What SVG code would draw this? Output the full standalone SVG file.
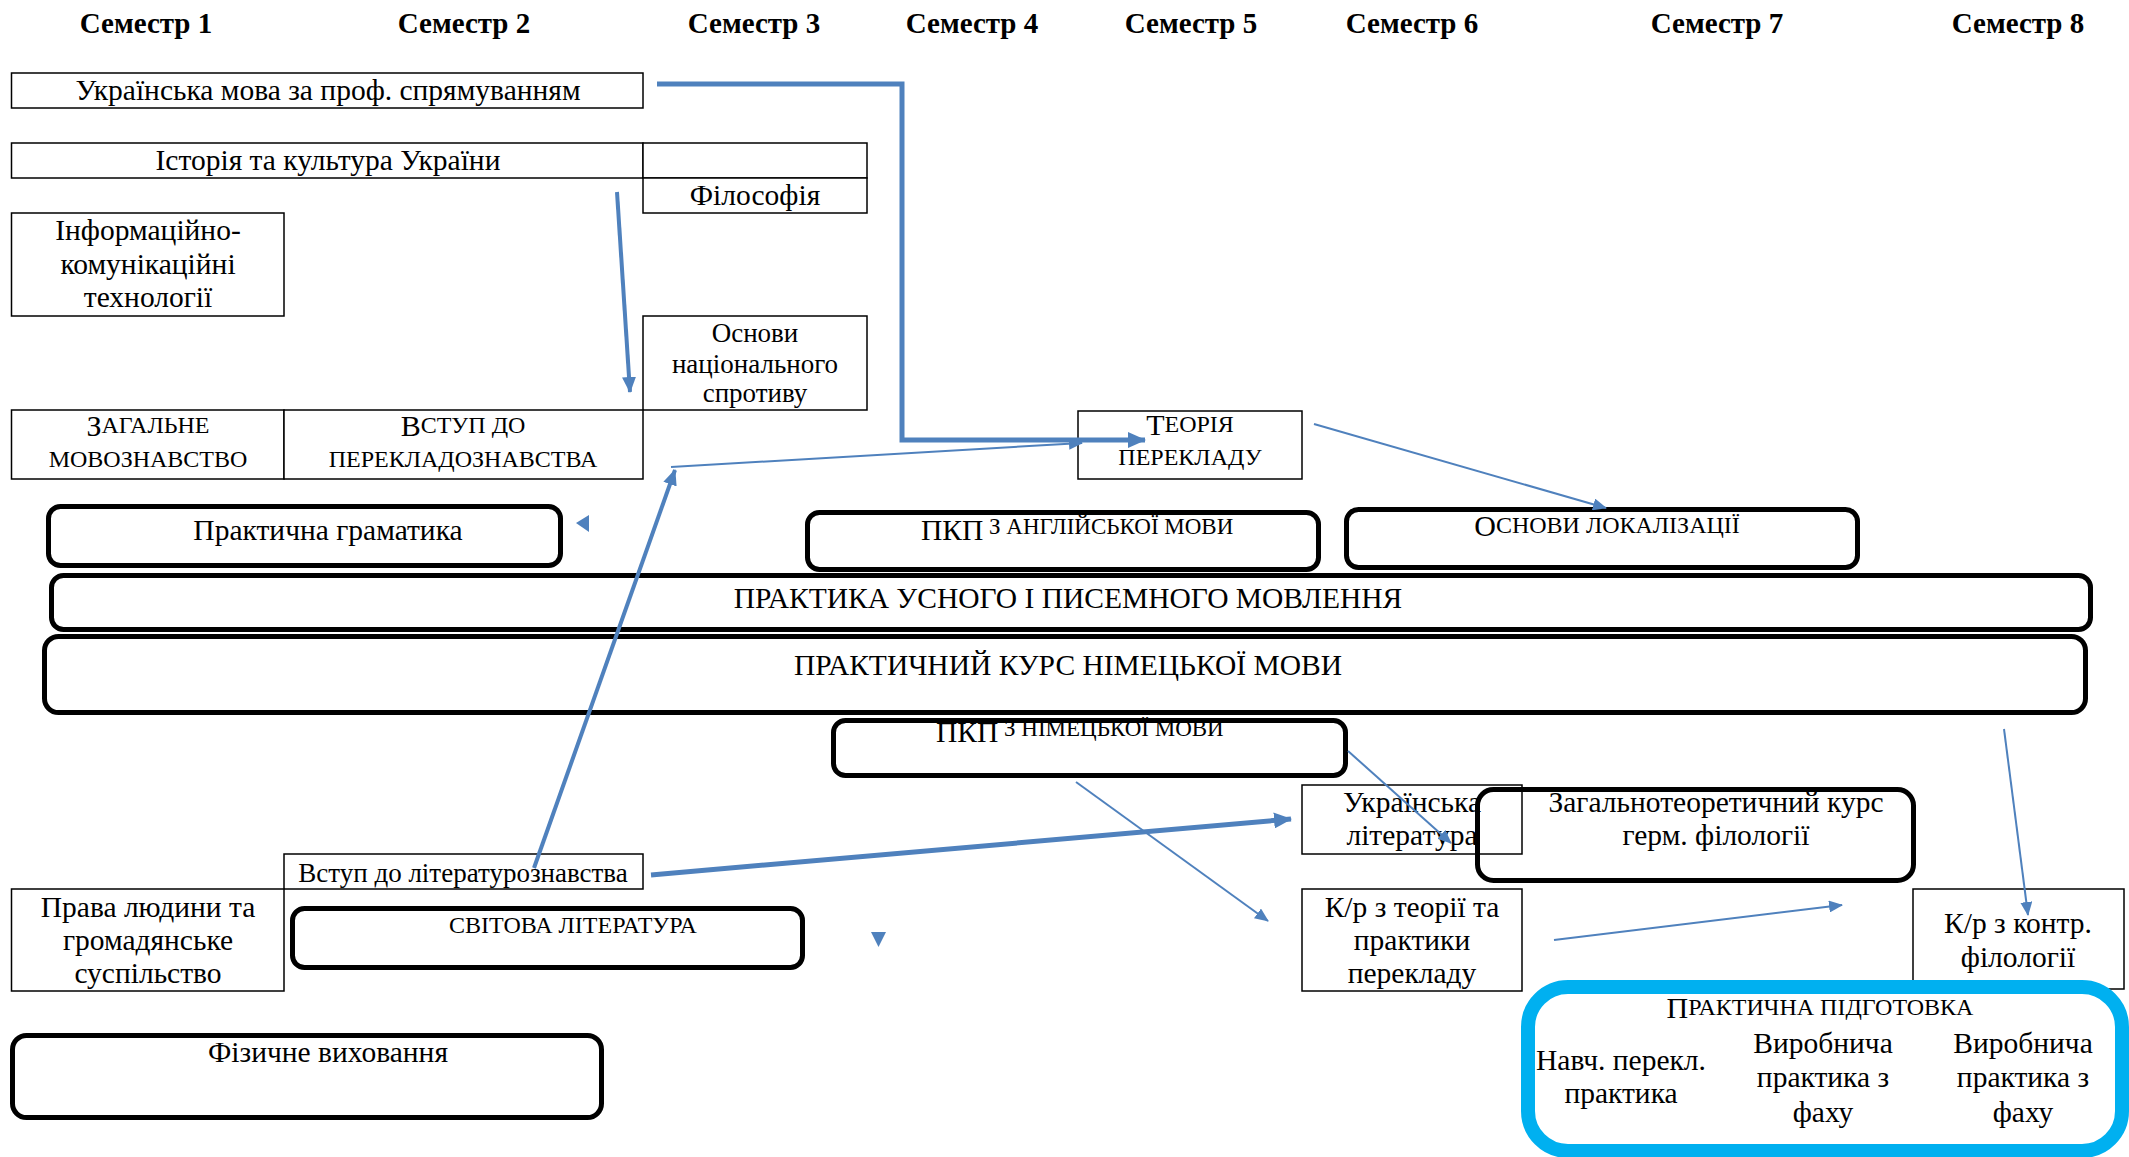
<svg xmlns="http://www.w3.org/2000/svg" width="2129" height="1157" viewBox="0 0 2129 1157">
<style>
text{font-family:"Liberation Serif","Times New Roman",serif;fill:#000;text-anchor:middle}
.h{font-size:29px;font-weight:bold}
.t{font-size:29.5px}
.s{font-size:27px}
.sc{font-size:24px}
.box{fill:#fff;stroke:#000;stroke-width:1.5}
.rb{fill:#fff;stroke:#000;stroke-width:5}
.thick{fill:none;stroke:#4F81BD;stroke-width:5}
.mid{fill:none;stroke:#4F81BD;stroke-width:4}
.thin{fill:none;stroke:#4F81BD;stroke-width:2}
.tri{fill:#4F81BD}
</style>
<defs>
<marker id="ab" markerUnits="userSpaceOnUse" markerWidth="18" markerHeight="16" refX="17" refY="8" orient="auto"><path d="M0,0 L18,8 L0,16 z" fill="#4F81BD"/></marker>
<marker id="am" markerUnits="userSpaceOnUse" markerWidth="16" markerHeight="14" refX="15" refY="7" orient="auto"><path d="M0,0 L16,7 L0,14 z" fill="#4F81BD"/></marker>
<marker id="at" markerUnits="userSpaceOnUse" markerWidth="14" markerHeight="12" refX="13" refY="6" orient="auto"><path d="M0,0 L14,6 L0,12 z" fill="#4F81BD"/></marker>
</defs>
<rect width="2129" height="1157" fill="#fff"/>

<g id="headers">
<text class="h" x="146" y="33">Семестр 1</text>
<text class="h" x="464" y="33">Семестр 2</text>
<text class="h" x="754" y="33">Семестр 3</text>
<text class="h" x="972" y="33">Семестр 4</text>
<text class="h" x="1191" y="33">Семестр 5</text>
<text class="h" x="1412" y="33">Семестр 6</text>
<text class="h" x="1717" y="33">Семестр 7</text>
<text class="h" x="2018" y="33">Семестр 8</text>
</g>

<g id="n-ukrmova"><rect class="box" x="11.5" y="73" width="631.5" height="35"/><text class="t" x="328" y="100">Українська мова за проф. спрямуванням</text></g>
<g id="n-istoria"><rect class="box" x="11.5" y="143" width="631.5" height="35"/><rect class="box" x="643" y="143" width="224" height="35"/><text class="t" x="328" y="170">Історія та культура України</text></g>
<g id="n-filosofia"><rect class="box" x="643" y="178" width="224" height="35"/><text class="t" x="755" y="205">Філософія</text></g>
<g id="n-ikt"><rect class="box" x="11.5" y="213" width="272.5" height="103"/><text class="t" x="148" y="240">Інформаційно-</text><text class="t" x="148" y="274">комунікаційні</text><text class="t" x="148" y="307">технології</text></g>
<g id="n-osnovy-sprotyvu"><rect class="box" x="643" y="316" width="224" height="94"/><text class="s" x="755" y="342">Основи</text><text class="s" x="755" y="373">національного</text><text class="s" x="755" y="402">спротиву</text></g>
<g id="n-zagalne"><rect class="box" x="11.5" y="410" width="272.5" height="69"/><text class="sc" x="148" y="433"><tspan font-size="30" dy="3">З</tspan><tspan dy="-3">АГАЛЬНЕ</tspan></text><text class="sc" x="148" y="467">МОВОЗНАВСТВО</text></g>
<g id="n-vstup-perekl"><rect class="box" x="284" y="410" width="359" height="69"/><text class="sc" x="463" y="433"><tspan font-size="30" dy="3">В</tspan><tspan dy="-3">СТУП ДО</tspan></text><text class="sc" x="463" y="467">ПЕРЕКЛАДОЗНАВСТВА</text></g>
<g id="n-teoria"><rect class="box" x="1078" y="411" width="224" height="68"/><text class="sc" x="1190" y="432"><tspan font-size="30" dy="3">Т</tspan><tspan dy="-3">ЕОРІЯ</tspan></text><text class="sc" x="1190" y="465">ПЕРЕКЛАДУ</text></g>

<g id="n-gramatyka"><rect class="rb" x="48.5" y="506.5" width="512" height="59" rx="12"/><text class="t" x="328" y="540">Практична граматика</text></g>
<g id="n-pkp-angl"><rect class="rb" x="807.5" y="512.5" width="511" height="57" rx="12"/><text class="t" x="921" y="540" style="text-anchor:start">ПКП<tspan font-size="23" dy="-6"> З АНГЛІЙСЬКОЇ МОВИ</tspan></text></g>
<g id="n-lokalizatsia"><rect class="rb" x="1346.5" y="509.5" width="511" height="58" rx="12"/><text class="sc" x="1607" y="533"><tspan font-size="30" dy="3">О</tspan><tspan dy="-3">СНОВИ ЛОКАЛІЗАЦІЇ</tspan></text></g>
<g id="n-pusm"><rect class="rb" x="51.5" y="575.5" width="2039" height="54" rx="12"/><text class="t" x="1068" y="608">ПРАКТИКА УСНОГО І ПИСЕМНОГО МОВЛЕННЯ</text></g>
<g id="n-pknm"><rect class="rb" x="44.5" y="636.5" width="2041" height="76" rx="14"/><text class="t" x="1068" y="675">ПРАКТИЧНИЙ КУРС НІМЕЦЬКОЇ МОВИ</text></g>
<g id="n-pkp-nim"><rect class="rb" x="833.5" y="720.5" width="512" height="55" rx="12"/><text class="t" x="936" y="742" style="text-anchor:start">ПКП<tspan font-size="23" dy="-6"> З НІМЕЦЬКОЇ МОВИ</tspan></text></g>

<g id="n-vstup-lit"><rect class="box" x="284" y="854" width="359" height="35"/><text class="s" x="463" y="882">Вступ до літературознавства</text></g>
<g id="n-prava"><rect class="box" x="11.5" y="889" width="272.5" height="102"/><text class="t" x="148" y="917">Права людини та</text><text class="t" x="148" y="950">громадянське</text><text class="t" x="148" y="983">суспільство</text></g>
<g id="n-svitova"><rect class="rb" x="292.5" y="908.5" width="510" height="59" rx="12"/><text class="sc" x="573" y="933" font-size="24.5">СВІТОВА ЛІТЕРАТУРА</text></g>
<g id="n-fizychne"><rect class="rb" x="12.5" y="1035.5" width="589" height="82" rx="14"/><text class="t" x="328" y="1062">Фізичне виховання</text></g>

<g id="n-ukrlit"><rect class="box" x="1302" y="785" width="220" height="69"/><text class="t" x="1412" y="812">Українська</text><text class="t" x="1412" y="845">література</text></g>
<g id="n-zagteor"><rect class="rb" x="1477.5" y="789.5" width="436" height="91" rx="16" style="fill:none"/><text class="t" x="1716" y="812">Загальнотеоретичний курс</text><text class="t" x="1716" y="845">герм. філології</text></g>
<g id="n-kr-teor"><rect class="box" x="1302" y="889" width="220" height="102"/><text class="t" x="1412" y="917">К/р з теорії та</text><text class="t" x="1412" y="950">практики</text><text class="t" x="1412" y="983">перекладу</text></g>
<g id="n-kr-kontr"><rect class="box" x="1913" y="889" width="211" height="100"/><text class="t" x="2018" y="933">К/р з контр.</text><text class="t" x="2018" y="967">філології</text></g>
<g id="n-praktpidg"><rect x="1528" y="987" width="594" height="164" rx="40" fill="#fff" stroke="#00B0F0" stroke-width="14"/>
<text class="sc" x="1820" y="1015"><tspan font-size="30" dy="3">П</tspan><tspan dy="-3">РАКТИЧНА ПІДГОТОВКА</tspan></text>
<text class="t" x="1621" y="1070">Навч. перекл.</text><text class="t" x="1621" y="1103">практика</text>
<text class="t" x="1823" y="1053">Виробнича</text><text class="t" x="1823" y="1087">практика з</text><text class="t" x="1823" y="1122">фаху</text>
<text class="t" x="2023" y="1053">Виробнича</text><text class="t" x="2023" y="1087">практика з</text><text class="t" x="2023" y="1122">фаху</text>
</g>

<g id="connectors">
<path class="thick" d="M657,84 L902,84 L902,440 L1145,440" marker-end="url(#ab)"/>
<path class="mid" d="M617,192 L630,392" marker-end="url(#am)"/>
<path class="mid" d="M534,868 L675,470" marker-end="url(#am)"/>
<path class="thin" d="M671,467 L1082,443" marker-end="url(#at)"/>
<path class="thin" d="M1314,424 L1606,508" marker-end="url(#at)"/>
<path class="thick" d="M651,875 L1291,819" marker-end="url(#ab)"/>
<path class="thin" d="M1348,751 L1451,843" marker-end="url(#at)"/>
<path class="thin" d="M1076,782 L1268,921" marker-end="url(#at)"/>
<path class="thin" d="M1554,940 L1842,905" stroke-width="3" marker-end="url(#at)"/>
<path class="thin" d="M2004,729 L2028,915" marker-end="url(#at)"/>
<polygon class="tri" points="576,523 589,515 589,532"/>
<polygon class="tri" points="871,932 886,932 878.5,947"/>
</g>
</svg>
